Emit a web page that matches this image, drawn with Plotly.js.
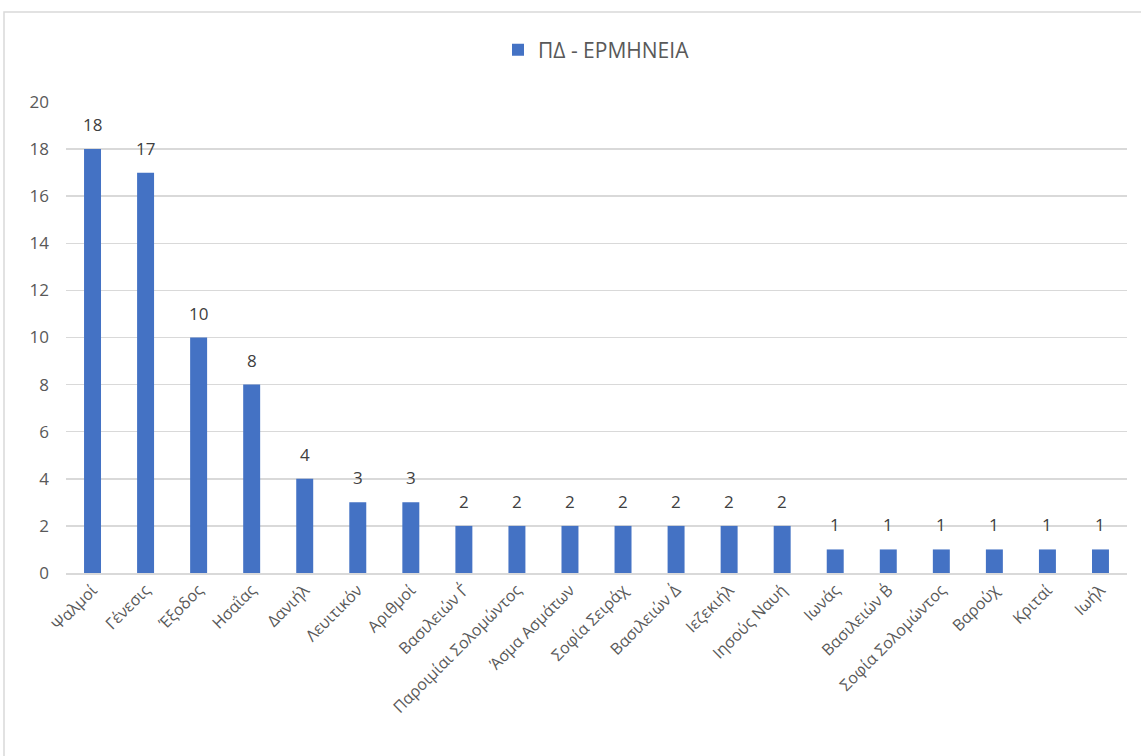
<!DOCTYPE html>
<html>
<head>
<meta charset="utf-8">
<script src="https://cdn.plot.ly/plotly-3.0.1.min.js"></script>
<style>html,body{margin:0;padding:0;background:#fff;}#chart{width:1141px;height:756px;}</style>
</head>
<body>
<div id="chart"></div>
<script>
const categories = ["Ψαλμοί","Γένεσις","Έξοδος","Ησαΐας","Δανιήλ","Λευιτικόν","Αριθμοί","Βασιλειών Γ΄","Παροιμίαι Σολομώντος","Άσμα Ασμάτων","Σοφία Σειράχ","Βασιλειών Δ΄","Ιεζεκιήλ","Ιησούς Ναυή","Ιωνάς","Βασιλειών Β΄","Σοφία Σολομώντος","Βαρούχ","Κριταί","Ιωήλ"];
const values = [18,17,10,8,4,3,3,2,2,2,2,2,2,2,1,1,1,1,1,1];
const seriesName = "ΠΔ - ΕΡΜΗΝΕΙΑ";
const yTicks = [0,2,4,6,8,10,12,14,16,18,20];

const font = "Open Sans, Noto Sans, sans-serif";
const labels = categories.map((c, i) => ({
  x: c, y: values[i], xref: "x", yref: "y", text: String(values[i]),
  showarrow: false, yanchor: "bottom", yshift: 11,
  font: {family: font, size: 17, color: "#404040"}
}));
Plotly.newPlot("chart", [{
  type: "bar",
  x: categories,
  y: values,
  name: seriesName,
  marker: {color: "#4472C4"},
  width: 0.32,
  showlegend: true
}], {
  width: 1141, height: 756,
  margin: {l: 66, r: 14, t: 102, b: 183},
  paper_bgcolor: "#fff", plot_bgcolor: "#fff",
  font: {family: font, color: "#595959"},
  showlegend: true,
  legend: {orientation: "h", x: 0.5, xanchor: "center", y: 1.11, yanchor: "middle",
           font: {family: font, size: 21, color: "#595959"}},
  xaxis: {tickangle: -45, tickfont: {size: 16, color: "#595959"}, showgrid: false,
          showline: true, linecolor: "#d9d9d9", linewidth: 1.5, ticks: "", fixedrange: true},
  yaxis: {range: [0, 20], tickvals: yTicks, tickfont: {size: 17, color: "#595959"},
          showgrid: true, gridcolor: "#d9d9d9", gridwidth: 1.5, zeroline: false,
          showline: false, ticks: "", ticklabelstandoff: 16},
  annotations: labels,
  shapes: [{type: "rect", xref: "paper", yref: "paper",
            x0: -62/1061, x1: 1.02, y0: -0.5, y1: 1 + 90/471,
            line: {color: "#d9d9d9", width: 1.5}, fillcolor: "rgba(0,0,0,0)", layer: "below"}]
}, {displayModeBar: false, staticPlot: true});
</script>
</body>
</html>
